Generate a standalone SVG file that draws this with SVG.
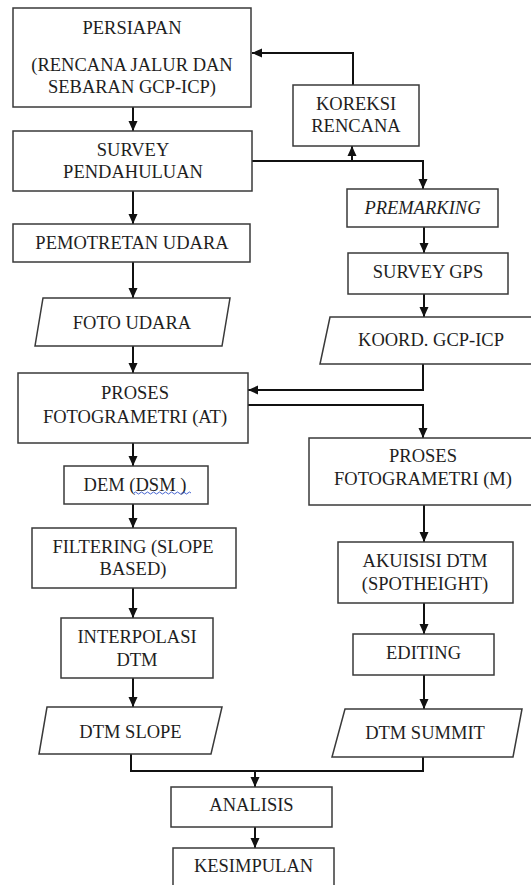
<svg xmlns="http://www.w3.org/2000/svg" width="531" height="885" viewBox="0 0 531 885">
<style>
.n{fill:#fff;stroke:#3a3a3a;stroke-width:1.5}
.t{font-family:'Liberation Serif','Times New Roman',serif;font-size:18.5px;fill:#1e1e1e;text-anchor:middle;dominant-baseline:central}
.c{fill:none;stroke:#111;stroke-width:2}
</style>
<defs>
<marker id="ah" markerUnits="userSpaceOnUse" markerWidth="10" markerHeight="10" viewBox="0 0 10 10" refX="10" refY="5" orient="auto">
<path d="M0,0.5 L10,5 L0,9.5 z" fill="#111"/>
</marker>
</defs>
<rect width="531" height="885" fill="#fff"/>
<g id="connectors">
<path class="c" d="M353,85 V53 H252" marker-end="url(#ah)"/>
<path class="c" d="M133,107 V131" marker-end="url(#ah)"/>
<path class="c" d="M252,161 H423 V189" marker-end="url(#ah)"/>
<path class="c" d="M352,161 V146" marker-end="url(#ah)"/>
<path class="c" d="M133,191 V224" marker-end="url(#ah)"/>
<path class="c" d="M424,227 V253" marker-end="url(#ah)"/>
<path class="c" d="M133,262 V298" marker-end="url(#ah)"/>
<path class="c" d="M424,294 V317" marker-end="url(#ah)"/>
<path class="c" d="M133,346 V373" marker-end="url(#ah)"/>
<path class="c" d="M423,364 V390 H248" marker-end="url(#ah)"/>
<path class="c" d="M248,405 H423 V438" marker-end="url(#ah)"/>
<path class="c" d="M133,443 V466" marker-end="url(#ah)"/>
<path class="c" d="M133,504 V528" marker-end="url(#ah)"/>
<path class="c" d="M424,505 V542" marker-end="url(#ah)"/>
<path class="c" d="M133,588 V618" marker-end="url(#ah)"/>
<path class="c" d="M424,603 V634" marker-end="url(#ah)"/>
<path class="c" d="M133,678 V707" marker-end="url(#ah)"/>
<path class="c" d="M424,675 V709" marker-end="url(#ah)"/>
<path class="c" d="M131,754 V771 H423 V757"/>
<path class="c" d="M255,771 V787" marker-end="url(#ah)"/>
<path class="c" d="M255,827 V848" marker-end="url(#ah)"/>
</g>
<g id="persiapan">
<rect class="n" x="13" y="8" width="238" height="99"/>
<text class="t" x="132" y="28">PERSIAPAN</text>
<text class="t" x="132" y="65">(RENCANA JALUR DAN</text>
<text class="t" x="132" y="87">SEBARAN GCP-ICP)</text>
</g>
<g id="koreksi">
<rect class="n" x="293" y="85" width="126" height="61"/>
<text class="t" x="356" y="104">KOREKSI</text>
<text class="t" x="356" y="126">RENCANA</text>
</g>
<g id="survey-pendahuluan">
<rect class="n" x="13" y="131" width="239" height="60"/>
<text class="t" x="133" y="150">SURVEY</text>
<text class="t" x="133" y="172">PENDAHULUAN</text>
</g>
<g id="premarking">
<rect class="n" x="347" y="189" width="151" height="38"/>
<text class="t" x="422.5" y="208" font-style="italic">PREMARKING</text>
</g>
<g id="pemotretan">
<rect class="n" x="13" y="224" width="237" height="38"/>
<text class="t" x="132" y="243">PEMOTRETAN UDARA</text>
</g>
<g id="survey-gps">
<rect class="n" x="348" y="253" width="160" height="41"/>
<text class="t" x="428" y="272">SURVEY GPS</text>
</g>
<g id="foto-udara">
<polygon class="n" points="43,298 230,298 222,346 35,346"/>
<text class="t" x="132" y="323">FOTO UDARA</text>
</g>
<g id="koord">
<polygon class="n" points="330,317 542,317 532,364 320,364"/>
<text class="t" x="431" y="340">KOORD. GCP-ICP</text>
</g>
<g id="proses-at">
<rect class="n" x="18" y="373" width="230" height="70"/>
<text class="t" x="135" y="393">PROSES</text>
<text class="t" x="135" y="417">FOTOGRAMETRI (AT)</text>
</g>
<g id="proses-m">
<rect class="n" x="309" y="438" width="230" height="67"/>
<text class="t" x="423" y="456">PROSES</text>
<text class="t" x="423" y="479">FOTOGRAMETRI (M)</text>
</g>
<g id="dem">
<rect class="n" x="64" y="466" width="144" height="38"/>
<text class="t" x="135" y="485">DEM (DSM )</text>
<path d="M134,493 q1.5,-2 3,0 t3,0 t3,0 t3,0 t3,0 t3,0 t3,0 t3,0 t3,0 t3,0 t3,0 t3,0 t3,0 t3,0 t3,0 t3,0 t3,0 t3,0 t3,0" fill="none" stroke="#3355cc" stroke-width="0.9"/>
</g>
<g id="filtering">
<rect class="n" x="32" y="528" width="204" height="60"/>
<text class="t" x="133" y="547">FILTERING (SLOPE</text>
<text class="t" x="133" y="569">BASED)</text>
</g>
<g id="akuisisi">
<rect class="n" x="338" y="542" width="175" height="61"/>
<text class="t" x="425" y="561">AKUISISI DTM</text>
<text class="t" x="425" y="584">(SPOTHEIGHT)</text>
</g>
<g id="interpolasi">
<rect class="n" x="61" y="618" width="152" height="60"/>
<text class="t" x="137" y="637">INTERPOLASI</text>
<text class="t" x="137" y="660">DTM</text>
</g>
<g id="editing">
<rect class="n" x="353" y="634" width="141" height="41"/>
<text class="t" x="423.5" y="653">EDITING</text>
</g>
<g id="dtm-slope">
<polygon class="n" points="47,707 222,707 211,754 39,754"/>
<text class="t" x="130.5" y="732">DTM SLOPE</text>
</g>
<g id="dtm-summit">
<polygon class="n" points="345,709 522,709 513,757 332,757"/>
<text class="t" x="425" y="733">DTM SUMMIT</text>
</g>
<g id="analisis">
<rect class="n" x="171" y="787" width="161" height="40"/>
<text class="t" x="251.5" y="805">ANALISIS</text>
</g>
<g id="kesimpulan">
<rect class="n" x="173" y="848" width="161" height="45"/>
<text class="t" x="253.5" y="866">KESIMPULAN</text>
</g>
</svg>
